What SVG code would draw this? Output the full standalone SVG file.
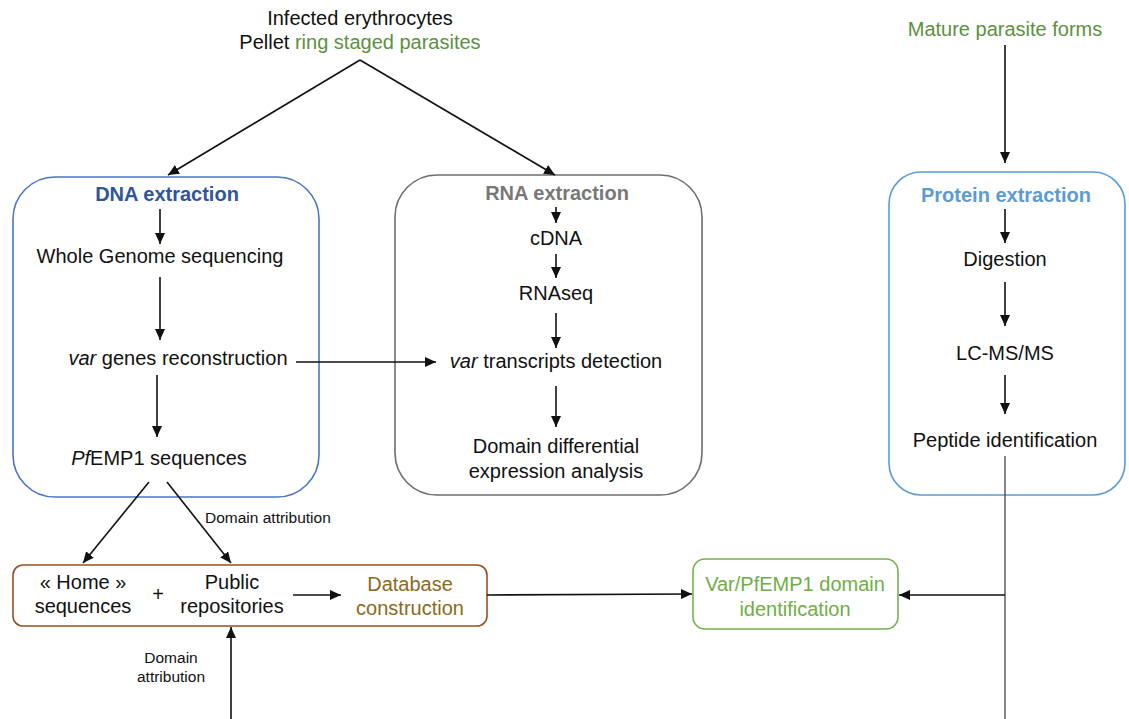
<svg xmlns="http://www.w3.org/2000/svg" width="1129" height="719" viewBox="0 0 1129 719">
<style>
text{font-family:"Liberation Sans",Arial,sans-serif;font-size:20px;fill:#111;text-anchor:middle}
.h{font-weight:bold}
.sm{font-size:15.5px}
.green{fill:#5b9140}
.line{stroke:#111;stroke-width:1.6;fill:none}
.thin{stroke:#444;stroke-width:1.3;fill:none}
.arr{marker-end:url(#ah)}
</style>
<defs>
<marker id="ah" markerUnits="userSpaceOnUse" markerWidth="12" markerHeight="10" refX="11" refY="5" orient="auto">
<path d="M0,0 L11,5 L0,10 Z" fill="#111"/>
</marker>
</defs>
<rect width="1129" height="719" fill="#fff"/>

<g id="source">
<text x="360" y="25">Infected erythrocytes</text>
<text x="360" y="49">Pellet <tspan class="green">ring staged parasites</tspan></text>
</g>

<g id="mature">
<text x="1005" y="36" class="green">Mature parasite forms</text>
</g>

<g id="dna">
<rect x="13" y="177" width="306" height="320" rx="42" fill="none" stroke="#4a76c4" stroke-width="1.6"/>
<text x="167" y="201" class="h" fill="#2f559a" style="fill:#2f559a">DNA extraction</text>
<text x="160" y="263">Whole Genome sequencing</text>
<text x="178" y="365"><tspan font-style="italic">var</tspan> genes reconstruction</text>
<text x="159" y="465"><tspan font-style="italic">Pf</tspan>EMP1 sequences</text>
</g>

<g id="rna">
<rect x="395" y="175" width="307" height="320" rx="42" fill="none" stroke="#6e6e6e" stroke-width="1.6"/>
<text x="557" y="200" class="h" style="fill:#787878">RNA extraction</text>
<text x="556" y="245">cDNA</text>
<text x="556" y="300">RNAseq</text>
<text x="556" y="368"><tspan font-style="italic">var</tspan> transcripts detection</text>
<text x="556" y="453">Domain differential</text>
<text x="556" y="478">expression analysis</text>
</g>

<g id="protein">
<rect x="889" y="172" width="236" height="323" rx="32" fill="none" stroke="#5b9bd5" stroke-width="1.6"/>
<text x="1006" y="202" class="h" style="fill:#5b9bd5">Protein extraction</text>
<text x="1005" y="266">Digestion</text>
<text x="1005" y="360">LC-MS/MS</text>
<text x="1005" y="447">Peptide identification</text>
</g>

<g id="database">
<rect x="13" y="565" width="474" height="61" rx="10" fill="none" stroke="#9a4f22" stroke-width="1.6"/>
<text x="83" y="589">« Home »</text>
<text x="83" y="613">sequences</text>
<text x="158" y="601">+</text>
<text x="232" y="589">Public</text>
<text x="232" y="613">repositories</text>
<text x="410" y="591" style="fill:#8a6a1c">Database</text>
<text x="410" y="615" style="fill:#8a6a1c">construction</text>
</g>

<g id="varid">
<rect x="693" y="559" width="205" height="70" rx="12" fill="none" stroke="#74b04c" stroke-width="1.6"/>
<text x="795" y="591" style="fill:#6fae46">Var/PfEMP1 domain</text>
<text x="795" y="616" style="fill:#6fae46">identification</text>
</g>

<g id="labels">
<text x="205" y="523" class="sm" style="text-anchor:start">Domain attribution</text>
<text x="171" y="663" class="sm">Domain</text>
<text x="171" y="682" class="sm">attribution</text>
</g>

<g id="connectors">
<line class="line arr" x1="360" y1="60" x2="168" y2="175"/>
<line class="line arr" x1="360" y1="60" x2="555" y2="175"/>
<line class="line arr" x1="1005" y1="45" x2="1005" y2="163"/>
<line class="line arr" x1="160" y1="209" x2="160" y2="244"/>
<line class="line arr" x1="160" y1="277" x2="160" y2="340"/>
<line class="line arr" x1="157" y1="375" x2="157" y2="437"/>
<line class="line arr" x1="296" y1="362" x2="436" y2="362"/>
<line class="line arr" x1="556" y1="207" x2="556" y2="223"/>
<line class="line arr" x1="556" y1="254" x2="556" y2="278"/>
<line class="line arr" x1="556" y1="313" x2="556" y2="348"/>
<line class="line arr" x1="556" y1="386" x2="556" y2="427"/>
<line class="line arr" x1="1005" y1="209" x2="1005" y2="243"/>
<line class="line arr" x1="1005" y1="282" x2="1005" y2="326"/>
<line class="line arr" x1="1005" y1="375" x2="1005" y2="414"/>
<line class="thin" x1="1005" y1="456" x2="1005" y2="719"/>
<line class="line arr" x1="1005" y1="595" x2="899" y2="595"/>
<line class="line arr" x1="487" y1="595" x2="692" y2="594"/>
<line class="line arr" x1="149" y1="482" x2="83" y2="563"/>
<line class="line arr" x1="167" y1="482" x2="231" y2="563"/>
<line class="line arr" x1="293" y1="595" x2="341" y2="595"/>
<line class="line arr" x1="231" y1="719" x2="231" y2="627"/>
</g>
</svg>
